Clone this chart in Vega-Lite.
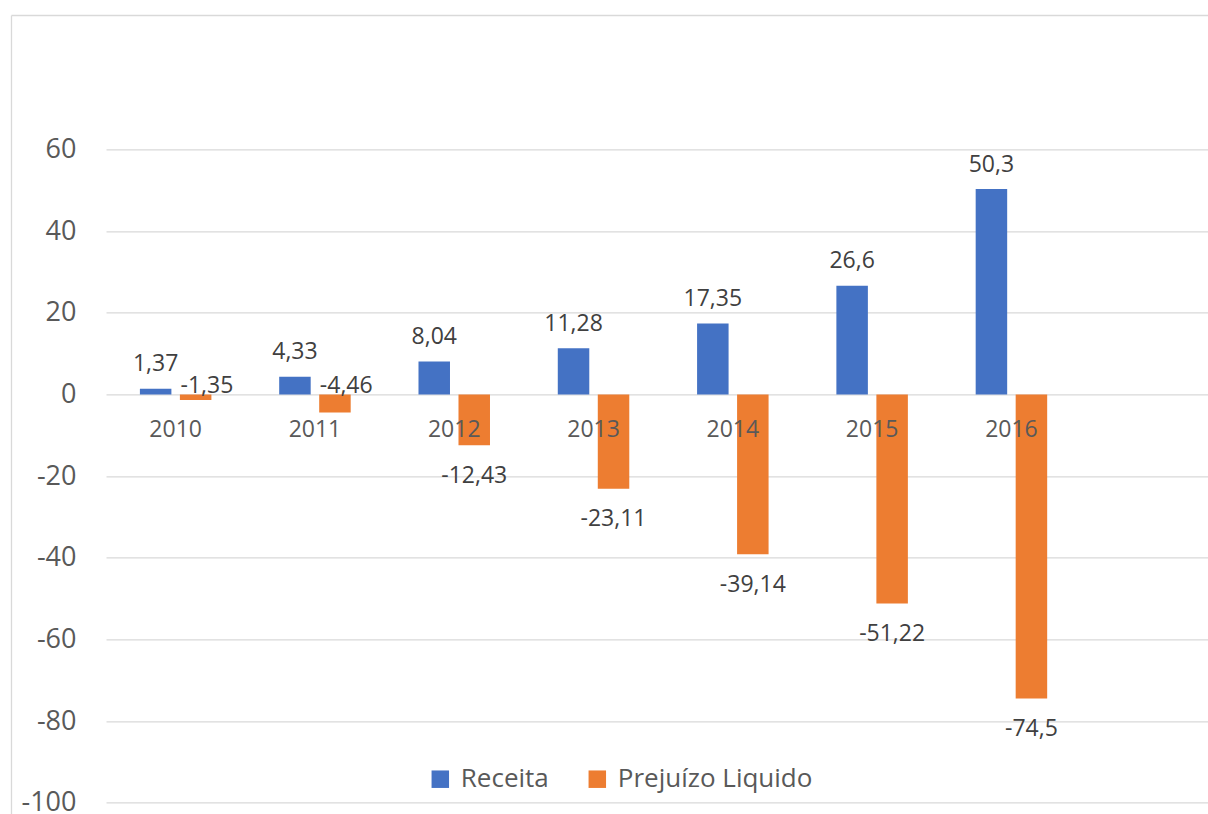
{
  "$schema": "https://vega.github.io/schema/vega-lite/v6.json",
  "width": 1102,
  "height": 653.3,
  "autosize": {"type": "none"},
  "padding": {"left": 106, "top": 149.4, "right": 0, "bottom": 11.3},
  "background": "white",
  "config": {
    "locale": {
      "number": {"decimal": ",", "thousands": ".", "grouping": [3], "currency": ["R$ ", ""], "minus": "-"}
    },
    "font": "Open Sans",
    "view": {"stroke": null}
  },
  "data": {
    "values": [
      {"ano": "2010", "serie": "Receita", "valor": 1.37},
      {"ano": "2010", "serie": "Prejuízo Liquido", "valor": -1.35},
      {"ano": "2011", "serie": "Receita", "valor": 4.33},
      {"ano": "2011", "serie": "Prejuízo Liquido", "valor": -4.46},
      {"ano": "2012", "serie": "Receita", "valor": 8.04},
      {"ano": "2012", "serie": "Prejuízo Liquido", "valor": -12.43},
      {"ano": "2013", "serie": "Receita", "valor": 11.28},
      {"ano": "2013", "serie": "Prejuízo Liquido", "valor": -23.11},
      {"ano": "2014", "serie": "Receita", "valor": 17.35},
      {"ano": "2014", "serie": "Prejuízo Liquido", "valor": -39.14},
      {"ano": "2015", "serie": "Receita", "valor": 26.6},
      {"ano": "2015", "serie": "Prejuízo Liquido", "valor": -51.22},
      {"ano": "2016", "serie": "Receita", "valor": 50.3},
      {"ano": "2016", "serie": "Prejuízo Liquido", "valor": -74.5}
    ]
  },
  "layer": [
    {
      "encoding": {
        "x": {
          "field": "ano",
          "type": "nominal",
          "scale": {
            "type": "band",
            "domain": ["2010", "2011", "2012", "2013", "2014", "2015", "2016"],
            "paddingInner": 0,
            "paddingOuter": 0.4556,
            "align": 0
          },
          "axis": {
            "orient": "bottom",
            "offset": -408.3,
            "domain": false,
            "ticks": false,
            "grid": false,
            "labelAngle": 0,
            "labelFont": "Open Sans",
            "labelFontSize": 23,
            "labelColor": "#595959",
            "labelPadding": 24.5,
            "title": null,
            "zindex": 1
          }
        },
        "xOffset": {
          "field": "serie",
          "type": "nominal",
          "scale": {
            "domain": ["Receita", "Prejuízo Liquido"],
            "paddingInner": 0.2125,
            "paddingOuter": 0.8475
          }
        },
        "y": {
          "field": "valor",
          "type": "quantitative",
          "scale": {"domain": [-100, 60], "nice": false, "zero": false},
          "axis": {
            "values": [-100, -80, -60, -40, -20, 0, 20, 40, 60],
            "grid": true,
            "gridColor": "#d9d9d9",
            "gridWidth": 1.3,
            "domain": false,
            "ticks": false,
            "labelPadding": 30,
            "labelFont": "Open Sans",
            "labelFontSize": 27,
            "labelColor": "#595959",
            "title": null
          }
        }
      },
      "layer": [
        {
          "mark": {"type": "bar"},
          "encoding": {
            "color": {
              "field": "serie",
              "type": "nominal",
              "scale": {"domain": ["Receita", "Prejuízo Liquido"], "range": ["#4472C4", "#ED7D31"]},
              "legend": {
                "title": null,
                "orient": "none",
                "legendX": 321.3,
                "legendY": 616.8,
                "direction": "horizontal",
                "symbolType": "square",
                "symbolSize": 306,
                "symbolStrokeWidth": 0,
                "labelFont": "Open Sans",
                "labelFontSize": 26,
                "labelColor": "#595959",
                "labelOffset": 7.5,
                "columnPadding": 35,
                "padding": 0,
                "labelLimit": 400
              }
            }
          }
        },
        {
          "transform": [{"filter": "datum.valor > 0"}],
          "mark": {"type": "text", "baseline": "alphabetic", "align": "center", "dy": -17.5, "fontSize": 23, "font": "Open Sans", "color": "#404040"},
          "encoding": {"text": {"field": "valor", "type": "quantitative", "format": "~g"}}
        },
        {
          "transform": [{"filter": "datum.valor < -5"}],
          "mark": {"type": "text", "baseline": "alphabetic", "align": "center", "dy": 37.5, "fontSize": 23, "font": "Open Sans", "color": "#404040"},
          "encoding": {"text": {"field": "valor", "type": "quantitative", "format": "~g"}}
        },
        {
          "transform": [{"filter": "datum.valor < 0 && datum.valor >= -5"}],
          "mark": {"type": "text", "baseline": "alphabetic", "align": "center", "dx": 11.3, "dy": -1, "fontSize": 23, "font": "Open Sans", "color": "#404040"},
          "encoding": {
            "y": {"datum": 0, "type": "quantitative"},
            "text": {"field": "valor", "type": "quantitative", "format": "~g"}
          }
        }
      ]
    },
    {
      "mark": {"type": "point", "opacity": 0},
      "encoding": {
        "x": {
          "field": "ano",
          "type": "nominal",
          "scale": {"type": "point", "range": [-95, 1102]},
          "axis": {
            "orient": "top",
            "offset": 134.4,
            "labels": false,
            "ticks": false,
            "grid": false,
            "domain": true,
            "domainColor": "#d9d9d9",
            "domainWidth": 1.3,
            "title": null
          }
        },
        "y": {
          "field": "valor",
          "type": "quantitative",
          "scale": {"domain": [-100, 60], "nice": false, "zero": false, "range": [665, -134.4]},
          "axis": {
            "orient": "left",
            "offset": 95,
            "labels": false,
            "ticks": false,
            "grid": false,
            "domain": true,
            "domainColor": "#d9d9d9",
            "domainWidth": 1.3,
            "title": null
          }
        }
      }
    }
  ],
  "resolve": {
    "scale": {"x": "independent", "y": "independent"},
    "axis": {"x": "independent", "y": "independent"}
  }
}
